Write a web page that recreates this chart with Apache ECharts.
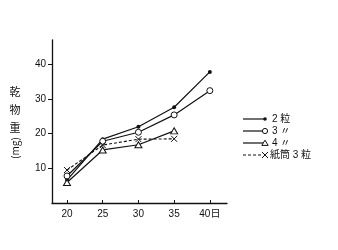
<!DOCTYPE html>
<html><head><meta charset="utf-8">
<script src="https://cdn.jsdelivr.net/npm/echarts@6/dist/echarts.min.js"></script>
<style>html,body{margin:0;padding:0;background:#fff}#c{width:338px;height:250px}</style>
</head><body><div id="c"></div>
<script>
const days = [20, 25, 30, 35, 40];
const xTicks = [20, 25, 30, 35, 40];
const yTicks = [10, 20, 30, 40];
const seriesNames = ['2 粒', '3 〃', '4 〃', '紙筒 3 粒'];
const grain2 = [6.6, 18.4, 22.0, 27.6, 37.8];
const grain3 = [7.8, 17.8, 20.4, 25.4, 32.4];
const grain4 = [5.9, 15.3, 16.8, 20.8];
const paperPot3 = [9.5, 16.7, 18.4, 18.5];

const F = '"Liberation Sans","Noto Sans CJK JP",sans-serif';
const pairs = (vals) => vals.map((v, i) => [days[i], v]);
const base = { type: 'line', color: '#111', lineStyle: { color: '#111', width: 1.2 }, silent: true, animation: false };
const chart = echarts.init(document.getElementById('c'), null, { renderer: 'canvas' });

const xPath = 'path://M0,0L10,10M10,0L0,10';
const circPath = 'path://M0,5A5,5 0 1,0 10,5A5,5 0 1,0 0,5Z';
const triPath = 'path://M0,9L5,0L10,9Z';
const legendY = [119, 131, 143, 155];
const legendG = [];
const sym = [
  { type: 'circle', shape: { cx: 0, cy: 0, r: 1.8 }, style: { fill: '#111' } },
  { type: 'circle', shape: { cx: 0, cy: 0, r: 2.6 }, style: { fill: '#fff', stroke: '#111', lineWidth: 1 } },
  { type: 'polygon', shape: { points: [[-3.2, 2.4], [0, -2.8], [3.2, 2.4]] }, style: { fill: '#fff', stroke: '#111', lineWidth: 1 } },
  { type: 'polyline', shape: { points: [[-3, -3], [3, 3], [0, 0], [3, -3], [-3, 3]] }, style: { fill: null, stroke: '#111', lineWidth: 1 } }
];
seriesNames.forEach((n, i) => {
  const y = legendY[i];
  legendG.push({ type: 'line', shape: { x1: 243, y1: y, x2: i === 3 ? 262 : 265, y2: y },
    style: { stroke: '#111', lineWidth: 1.2, lineDash: i === 3 ? [3, 2] : null } });
  legendG.push(Object.assign({}, sym[i], { x: 265, y: y }));
  legendG.push({ type: 'text', x: i === 3 ? 270 : 272, y: y,
    style: { text: n, font: '10px ' + F, fill: '#111', verticalAlign: 'middle', align: 'left' } });
});
const yName = [
  { type: 'text', x: 15, y: 92, style: { text: '乾', font: '11px "Noto Sans CJK JP"', fill: '#111', align: 'center', verticalAlign: 'middle' } },
  { type: 'text', x: 15, y: 110, style: { text: '物', font: '11px "Noto Sans CJK JP"', fill: '#111', align: 'center', verticalAlign: 'middle' } },
  { type: 'text', x: 15, y: 128, style: { text: '重', font: '11px "Noto Sans CJK JP"', fill: '#111', align: 'center', verticalAlign: 'middle' } },
  { type: 'text', x: 15, y: 148, rotation: Math.PI / 2, style: { text: '(mg)', font: '10px "Noto Sans CJK JP"', fill: '#111', align: 'center', verticalAlign: 'middle' } }
];

chart.setOption({
  backgroundColor: '#fff',
  animation: false,
  grid: { left: 52, right: 111, top: 40, bottom: 47 },
  xAxis: {
    type: 'value', min: 17.9, max: 42.4,
    axisLine: { lineStyle: { color: '#111', width: 1.3 } },
    axisTick: { show: true, inside: true, length: 3, customValues: xTicks, lineStyle: { color: '#111' } },
    axisLabel: { customValues: xTicks, color: '#111', fontSize: 10, fontFamily: F, margin: 6,
      formatter: v => v === 40 ? '40日' : String(v) },
    splitLine: { show: false }
  },
  yAxis: {
    type: 'value', min: 0, max: 47,
    axisLine: { show: true, lineStyle: { color: '#111', width: 1.3 } },
    axisTick: { show: true, length: 4, customValues: yTicks, lineStyle: { color: '#111' } },
    axisLabel: { customValues: yTicks, color: '#111', fontSize: 10, fontFamily: F, margin: 6 },
    splitLine: { show: false }
  },
  series: [
    Object.assign({}, base, { name: seriesNames[0], data: pairs(grain2), symbol: 'circle', symbolSize: 4,
      itemStyle: { color: '#111' } }),
    Object.assign({}, base, { name: seriesNames[1], data: pairs(grain3), symbol: circPath, symbolSize: 6,
      itemStyle: { color: '#fff', borderColor: '#111', borderWidth: 1 } }),
    Object.assign({}, base, { name: seriesNames[2], data: pairs(grain4), symbol: triPath, symbolSize: [7, 6],
      itemStyle: { color: '#fff', borderColor: '#111', borderWidth: 1 } }),
    Object.assign({}, base, { name: seriesNames[3], data: pairs(paperPot3), symbol: xPath, symbolSize: 6,
      lineStyle: { color: '#111', width: 1.1, type: [3, 2] },
      itemStyle: { color: 'none', borderColor: '#111', borderWidth: 1 } })
  ],
  graphic: legendG.concat(yName)
});
</script></body></html>
